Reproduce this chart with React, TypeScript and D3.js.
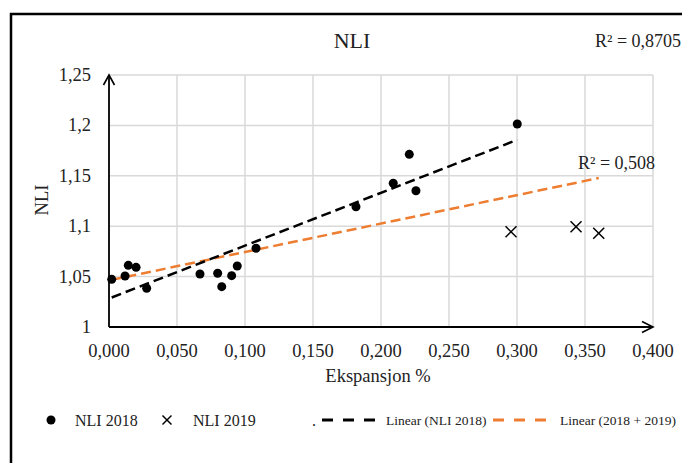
import React from "react";
import * as d3 from "d3";

const nli2018X = [0.002, 0.0118, 0.0142, 0.0199, 0.0277, 0.0669, 0.0799, 0.0829, 0.0902, 0.0943, 0.1081, 0.1816, 0.209, 0.2208, 0.2257, 0.3002];
const nli2018Y = [1.0473, 1.0506, 1.0612, 1.0592, 1.0384, 1.0526, 1.0533, 1.04, 1.0509, 1.0605, 1.0781, 1.1193, 1.1426, 1.1713, 1.1352, 1.2014];
const nli2019X = [0.2956, 0.3434, 0.3601];
const nli2019Y = [1.0945, 1.0995, 1.093];

const xTicks = [0, 0.05, 0.1, 0.15, 0.2, 0.25, 0.3, 0.35, 0.4];
const xTickLabels = ["0,000", "0,050", "0,100", "0,150", "0,200", "0,250", "0,300", "0,350", "0,400"];
const yTicks = [1, 1.05, 1.1, 1.15, 1.2, 1.25];
const yTickLabels = ["1", "1,05", "1,1", "1,15", "1,2", "1,25"];

const r2Black = "R² = 0,8705";
const r2Orange = "R² = 0,508";

const FONT = "'Liberation Serif', 'Times New Roman', serif";
const ORANGE = "#ED7D31";

function fit(xs: number[], ys: number[]) {
  const mx = d3.mean(xs)!;
  const my = d3.mean(ys)!;
  let sxy = 0, sxx = 0;
  xs.forEach((x, i) => {
    sxy += (x - mx) * (ys[i] - my);
    sxx += (x - mx) * (x - mx);
  });
  const b = sxy / sxx;
  const a = my - b * mx;
  const [x0, x1] = d3.extent(xs) as [number, number];
  return [
    [x0, a + b * x0],
    [x1, a + b * x1],
  ] as [number, number][];
}

export default function App() {
  const x = d3.scaleLinear().domain([0, 0.4]).range([109, 653]);
  const y = d3.scaleLinear().domain([1, 1.25]).range([327, 75]);
  const line = d3
    .line<[number, number]>()
    .x((d) => x(d[0]))
    .y((d) => y(d[1]));

  const blackFit = fit(nli2018X, nli2018Y);
  const orangeFit = fit([...nli2018X, ...nli2019X], [...nli2018Y, ...nli2019Y]);

  return (
    <svg
      width={682}
      height={463}
      style={{ position: "absolute", left: 0, top: 0, background: "#fff" }}
      fontFamily={FONT}
    >
      <rect x={0} y={0} width={682} height={463} fill="#fff" />
      <rect x={11} y={14} width={720} height={520} fill="none" stroke="#000" strokeWidth={2.5} />

      {/* gridlines */}
      {xTicks.slice(1).map((t) => (
        <line key={"gx" + t} x1={x(t)} x2={x(t)} y1={y(1.25)} y2={y(1)} stroke="#d9d9d9" strokeWidth={1.5} />
      ))}
      {yTicks.slice(1).map((t) => (
        <line key={"gy" + t} x1={x(0)} x2={x(0.4)} y1={y(t)} y2={y(t)} stroke="#d9d9d9" strokeWidth={1.5} />
      ))}

      {/* axes with arrows */}
      <line x1={x(0)} x2={x(0)} y1={y(1)} y2={y(1.25)} stroke="#000" strokeWidth={1.8} />
      <polyline
        points={`${x(0) - 5.5},${y(1.25) + 10} ${x(0)},${y(1.25)} ${x(0) + 5.5},${y(1.25) + 10}`}
        fill="none"
        stroke="#000"
        strokeWidth={1.6}
      />
      <line x1={x(0)} x2={x(0.4)} y1={y(1)} y2={y(1)} stroke="#000" strokeWidth={1.8} />
      <polyline
        points={`${x(0.4) - 11},${y(1) - 5.5} ${x(0.4)},${y(1)} ${x(0.4) - 11},${y(1) + 5.5}`}
        fill="none"
        stroke="#000"
        strokeWidth={1.6}
      />

      {/* tick labels */}
      {xTicks.map((t, i) => (
        <text key={"xl" + t} x={x(t)} y={357} textAnchor="middle" fontSize={18.5} fill="#222">
          {xTickLabels[i]}
        </text>
      ))}
      {yTicks.map((t, i) => (
        <text key={"yl" + t} x={91} y={y(t) + 6} textAnchor="end" fontSize={18.5} fill="#222">
          {yTickLabels[i]}
        </text>
      ))}

      {/* titles */}
      <text x={352} y={48} textAnchor="middle" fontSize={22} fill="#222">NLI</text>
      <text x={378} y={382} textAnchor="middle" fontSize={18.5} fill="#222">Ekspansjon %</text>
      <text transform="translate(48,200) rotate(-90)" textAnchor="middle" fontSize={18.5} fill="#222">NLI</text>

      {/* trend lines */}
      <path d={line(orangeFit)!} fill="none" stroke={ORANGE} strokeWidth={2.5} strokeDasharray="10,5" />
      <path d={line(blackFit)!} fill="none" stroke="#000" strokeWidth={2.5} strokeDasharray="10,5" />

      {/* points */}
      {nli2018X.map((v, i) => (
        <circle key={"p" + i} cx={x(v)} cy={y(nli2018Y[i])} r={4.5} fill="#000" />
      ))}
      {nli2019X.map((v, i) => {
        const cx = x(v);
        const cy = y(nli2019Y[i]);
        const s = 5.5;
        return (
          <g key={"c" + i} stroke="#000" strokeWidth={1.5}>
            <line x1={cx - s} y1={cy - s} x2={cx + s} y2={cy + s} />
            <line x1={cx - s} y1={cy + s} x2={cx + s} y2={cy - s} />
          </g>
        );
      })}

      {/* R² labels */}
      <text x={595} y={47} fontSize={18} fill="#222">{r2Black}</text>
      <text x={578} y={169} fontSize={18} fill="#222">{r2Orange}</text>

      {/* legend */}
      <circle cx={51} cy={420} r={4.5} fill="#000" />
      <text x={75} y={426} fontSize={16} fill="#222">NLI 2018</text>
      <g stroke="#000" strokeWidth={1.5}>
        <line x1={162.5} y1={415.5} x2={171.5} y2={424.5} />
        <line x1={162.5} y1={424.5} x2={171.5} y2={415.5} />
      </g>
      <text x={193} y={426} fontSize={16} fill="#222">NLI 2019</text>
      <text x={312} y={426} fontSize={16} fill="#222">.</text>
      <line x1={322} x2={381} y1={420} y2={420} stroke="#000" strokeWidth={3} strokeDasharray="11,10" />
      <text x={386} y={425} fontSize={13.5} fill="#222">
        Linear (NLI 2018)
      </text>
      <line x1={493} x2={555} y1={420} y2={420} stroke={ORANGE} strokeWidth={3} strokeDasharray="11,10" />
      <text x={560} y={425} fontSize={13.5} fill="#222">
        Linear (2018 + 2019)
      </text>
    </svg>
  );
}
